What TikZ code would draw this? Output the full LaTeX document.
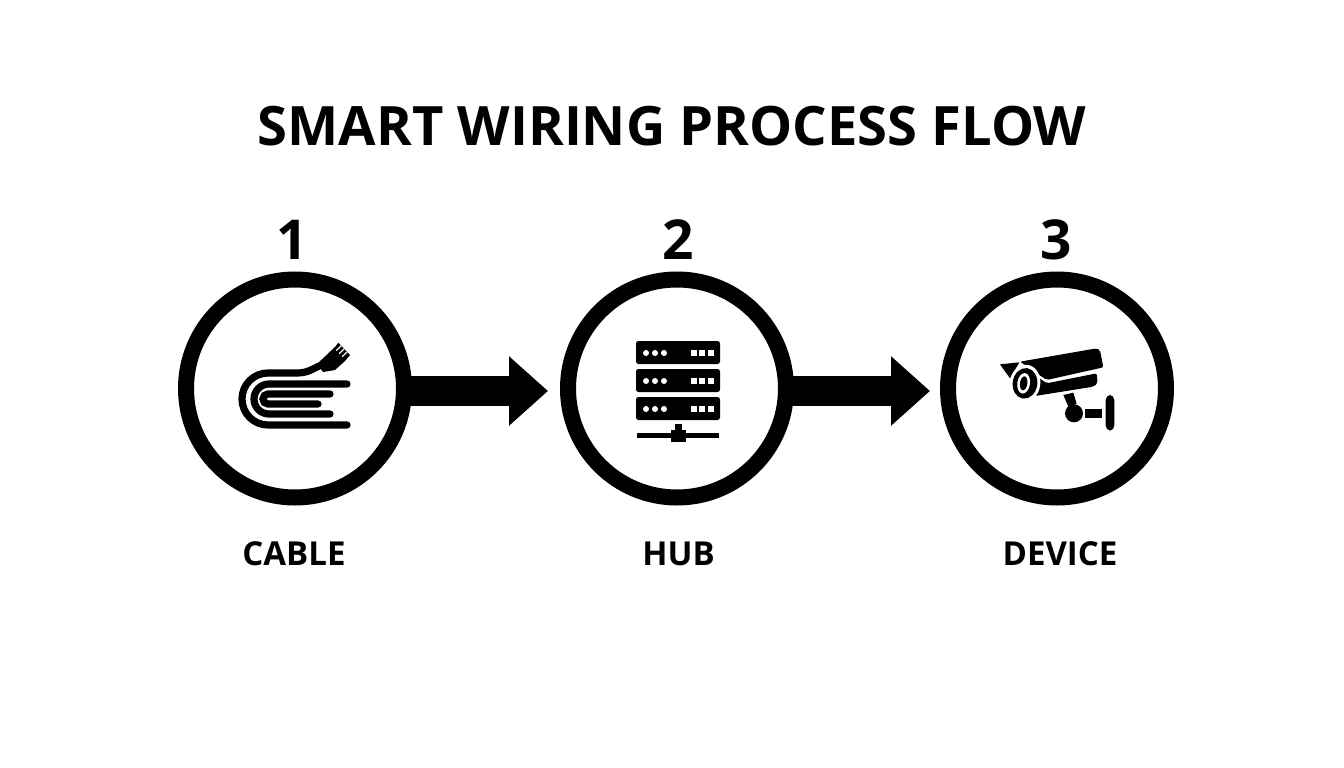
\documentclass[tikz,border=0pt]{standalone}
\usepackage{fontspec}
\setmainfont{Open Sans}
\usetikzlibrary{arrows.meta}
\tikzset{
  ring/.style={circle,draw=black,line width=16pt,minimum size=218pt,inner sep=0pt,fill=white},
  flow/.style={line width=30pt,-{Triangle[length=39pt,width=67pt]}},
  titletext/.style={font=\fontsize{54.3}{60}\selectfont\bfseries,text=black,inner sep=0pt,anchor=base},
  numtext/.style={font=\fontsize{55}{60}\selectfont\bfseries,text=black,inner sep=0pt,anchor=base},
  labeltext/.style={font=\fontsize{33}{38}\selectfont\bfseries,text=black,inner sep=0pt,anchor=base},
  wire/.style={line width=7.2pt,line cap=round,draw=black},
}
\begin{document}
\begin{tikzpicture}[x=1pt,y=-1pt]
\useasboundingbox (0,0) rectangle (1344,768);
\fill[white] (0,0) rectangle (1344,768);
\node[titletext] (title) at (672,145) {SMART WIRING PROCESS FLOW};
\node[numtext] (n1) at (292,259) {1};
\node[numtext] (n2) at (678,259) {2};
\node[numtext] (n3) at (1056,259) {3};
\node[ring] (c1) at (295,388.5) {};
\node[ring] (c2) at (677,388.5) {};
\node[ring] (c3) at (1057,388.5) {};
\draw[flow,shorten >=12pt,shorten <=-6pt] ([yshift=-2.5pt]c1.east) -- ([yshift=-2.5pt]c2.west);
\draw[flow,shorten >=10pt,shorten <=-6pt] ([yshift=-2.5pt]c2.east) -- ([yshift=-2.5pt]c3.west);
\node[labeltext] (l1) at (294,565.5) {CABLE};
\node[labeltext] (l2) at (678.5,565.5) {HUB};
\node[labeltext] (l3) at (1060,565.5) {DEVICE};
% cable icon
\draw[wire] (347,425) -- (268,425) arc[start angle=90,end angle=270,radius=26] -- (296,373)
  .. controls (307,373) and (311,370) .. (319,366);
\draw[wire] (330,414) -- (269,414) arc[start angle=90,end angle=270,radius=15] -- (347,384);
\draw[wire] (318,404) -- (268,404) arc[start angle=90,end angle=270,radius=5] -- (330,394);
\fill (317,364) -- (335,347) -- (338.3,342.7) -- (350,355) -- (345,361) -- (335,370) -- (323,372) -- cycle;
\draw[white,line width=1.2pt] (341.2,345.8) -- (336.2,350.6) (344.2,348.8) -- (339.2,353.6) (347.1,351.9) -- (342.1,356.7);
% hub icon
\foreach \y in {341,369,397}{
  \fill[black,rounded corners=2.5pt] (636,\y) rectangle (720,\y+23);
  \foreach \x in {646,655,664}{\fill[white] (\x,\y+12) circle[radius=3];}
  \foreach \x in {694,702.3,710.7}{\fill[white] (\x-3,\y+9) rectangle (\x+3,\y+15);}
}
\fill (637,432.5) rectangle (719,437.5);
\fill (671,430) rectangle (686,442);
\fill (675,424) rectangle (682,430);
% camera icon
\begin{scope}[shift={(985,330)},x=0.3333pt,y=-0.3333pt]
\fill (45,103) -- (103,97) -- (75,145) -- cycle;
\fill[rounded corners=2pt] (105,95) -- (335,55) -- (345,60) -- (355,112) -- (185,150) -- cycle;
\fill[rounded corners=2pt] (150,135) -- (185,160) -- (335,130) -- (338,160) -- (325,170) -- (150,198) -- cycle;
\fill[white,rotate around={-8:(120,160)}] (120,160) ellipse[x radius=46,y radius=56];
\fill[rotate around={-8:(120,160)}] (120,160) ellipse[x radius=37,y radius=46];
\fill[white,rotate around={-8:(116,160)}] (116,160) ellipse[x radius=19,y radius=31];
\fill[rotate around={-8:(116,160)}] (116,160) ellipse[x radius=11,y radius=21];
\fill (235,195) -- (265,188) -- (275,222) -- (250,230) -- cycle;
\fill (267,250) circle[radius=27];
\fill (300,237) rectangle (350,263);
\fill[rounded corners=5pt] (362,195) rectangle (388,302);
\end{scope}
\end{tikzpicture}
\end{document}
